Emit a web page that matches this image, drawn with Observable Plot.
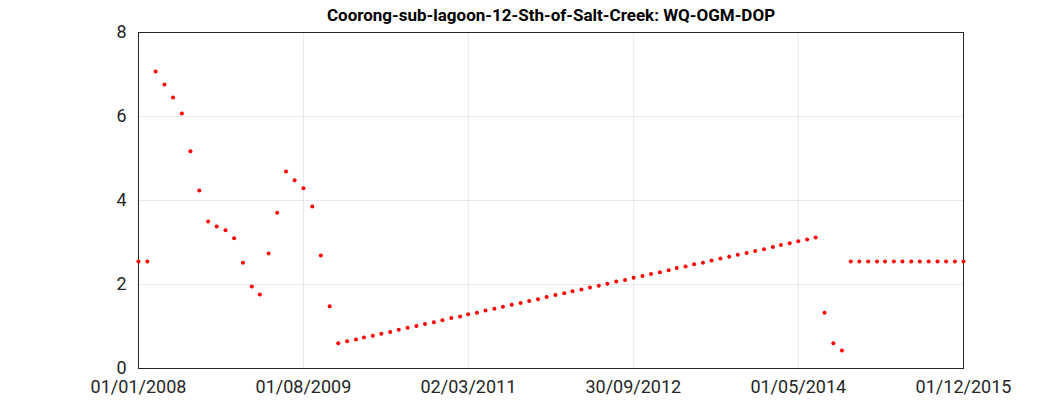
<!DOCTYPE html>
<html lang="en">
<head>
<meta charset="UTF-8">
<script src="https://cdn.jsdelivr.net/npm/d3@7"></script>
<script src="https://cdn.jsdelivr.net/npm/@observablehq/plot@0.6"></script>
<style>body{margin:0;background:#fff}</style>
</head>
<body>
<div id="chart"></div>
<script>
const title = "Coorong-sub-lagoon-12-Sth-of-Salt-Creek: WQ-OGM-DOP";
const startDate = new Date(Date.UTC(2008, 0, 1)); // monthly samples from here
const dopValues = [
  2.55, 2.55, 7.07, 6.76, 6.45, 6.07, 5.17, 4.24, 3.50, 3.38, 3.29, 3.10,
  2.52, 1.95, 1.76, 2.74, 3.71, 4.69, 4.48, 4.29, 3.86, 2.69, 1.48,
  0.60, 0.65, 0.69, 0.74, 0.78, 0.83, 0.87, 0.92, 0.97, 1.01, 1.06, 1.10,
  1.15, 1.20, 1.24, 1.29, 1.33, 1.38, 1.42, 1.47, 1.52, 1.56, 1.61, 1.65,
  1.70, 1.75, 1.79, 1.84, 1.88, 1.93, 1.97, 2.02, 2.07, 2.11, 2.16, 2.20,
  2.25, 2.29, 2.34, 2.39, 2.43, 2.48, 2.52, 2.57, 2.62, 2.66, 2.71, 2.75,
  2.80, 2.84, 2.89, 2.94, 2.98, 3.03, 3.07, 3.12,
  1.33, 0.60, 0.43,
  2.55, 2.55, 2.55, 2.55, 2.55, 2.55, 2.55, 2.55, 2.55, 2.55, 2.55, 2.55, 2.55, 2.55
];
const xTicks = ["2008-01-01", "2009-08-01", "2011-03-02", "2012-09-30", "2014-05-01", "2015-12-01"];
const yTicks = [0, 2, 4, 6, 8];

const data = dopValues.map((v, i) => ({date: d3.utcMonth.offset(startDate, i), value: v}));
const fmt = d3.utcFormat("%d/%m/%Y");

const plot = Plot.plot({
  width: 1063,
  height: 413,
  marginLeft: 138,
  marginRight: 100,
  marginTop: 32,
  marginBottom: 45,
  style: {fontFamily: "Roboto, Arial, sans-serif", fontSize: "18px", color: "#262626"},
  x: {type: "utc", domain: [new Date(xTicks[0]), new Date(xTicks[5])], ticks: xTicks.map(d => new Date(d)),
      tickFormat: fmt, label: null, grid: true, tickSize: 0, tickPadding: 12},
  y: {domain: [0, 8], ticks: yTicks, label: null, grid: true, tickSize: 0, tickPadding: 12},
  marks: [
    Plot.frame({stroke: "#262626"}),
    Plot.dot(data, {x: "date", y: "value", r: 2, fill: "red", stroke: "none"}),
    Plot.text([title], {frameAnchor: "top", dy: -24, fontWeight: "bold", fontSize: 17, fill: "black"})
  ]
});
document.getElementById("chart").replaceChildren(plot);
</script>
</body>
</html>
